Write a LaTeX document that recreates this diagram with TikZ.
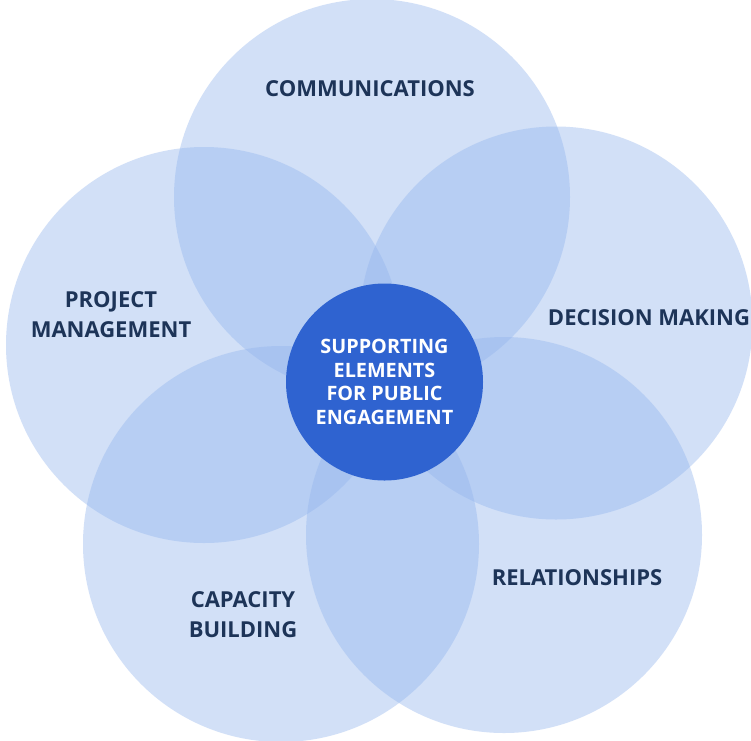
\documentclass[tikz,border=0pt]{standalone}
\usepackage{fontspec}
\setmainfont{Open Sans}
\begin{document}
\begin{tikzpicture}[x=1pt,y=-1pt]
\definecolor{petalc}{RGB}{148,182,238}
\definecolor{hubc}{RGB}{47,99,208}
\definecolor{inkc}{RGB}{29,52,88}
\tikzset{
  petal/.style={circle, fill=petalc, fill opacity=0.42, draw=none, minimum size=396pt, inner sep=0pt},
  lbl/.style={text=inkc, font=\fontsize{22}{30}\selectfont\bfseries, align=center, inner sep=0pt},
  hub/.style={circle, fill=hubc, draw=none, minimum size=197pt, inner sep=0pt, text=white, align=center, font=\fontsize{19.8}{23.5}\selectfont\bfseries}
}
\useasboundingbox (0,0) rectangle (751,740);
\fill[white] (0,0) rectangle (751,740);
\node[petal] (comm) at (372,197) {};
\node[petal, minimum size=393pt] (dec) at (556,323) {};
\node[petal] (proj) at (204,345) {};
\node[petal] (cap) at (281,544) {};
\node[petal] (rel) at (504,535) {};
\node[hub] (center) at (384.5,382) {SUPPORTING\\ELEMENTS\\FOR PUBLIC\\ENGAGEMENT};
\node[lbl] (tcomm) at (370,89) {COMMUNICATIONS};
\node[lbl] (tproj) at (111,315) {PROJECT\\MANAGEMENT};
\node[lbl] (tdec) at (649,318) {DECISION MAKING};
\node[lbl] (trel) at (577,578) {RELATIONSHIPS};
\node[lbl] (tcap) at (243,615) {CAPACITY\\BUILDING};
\end{tikzpicture}
\end{document}
